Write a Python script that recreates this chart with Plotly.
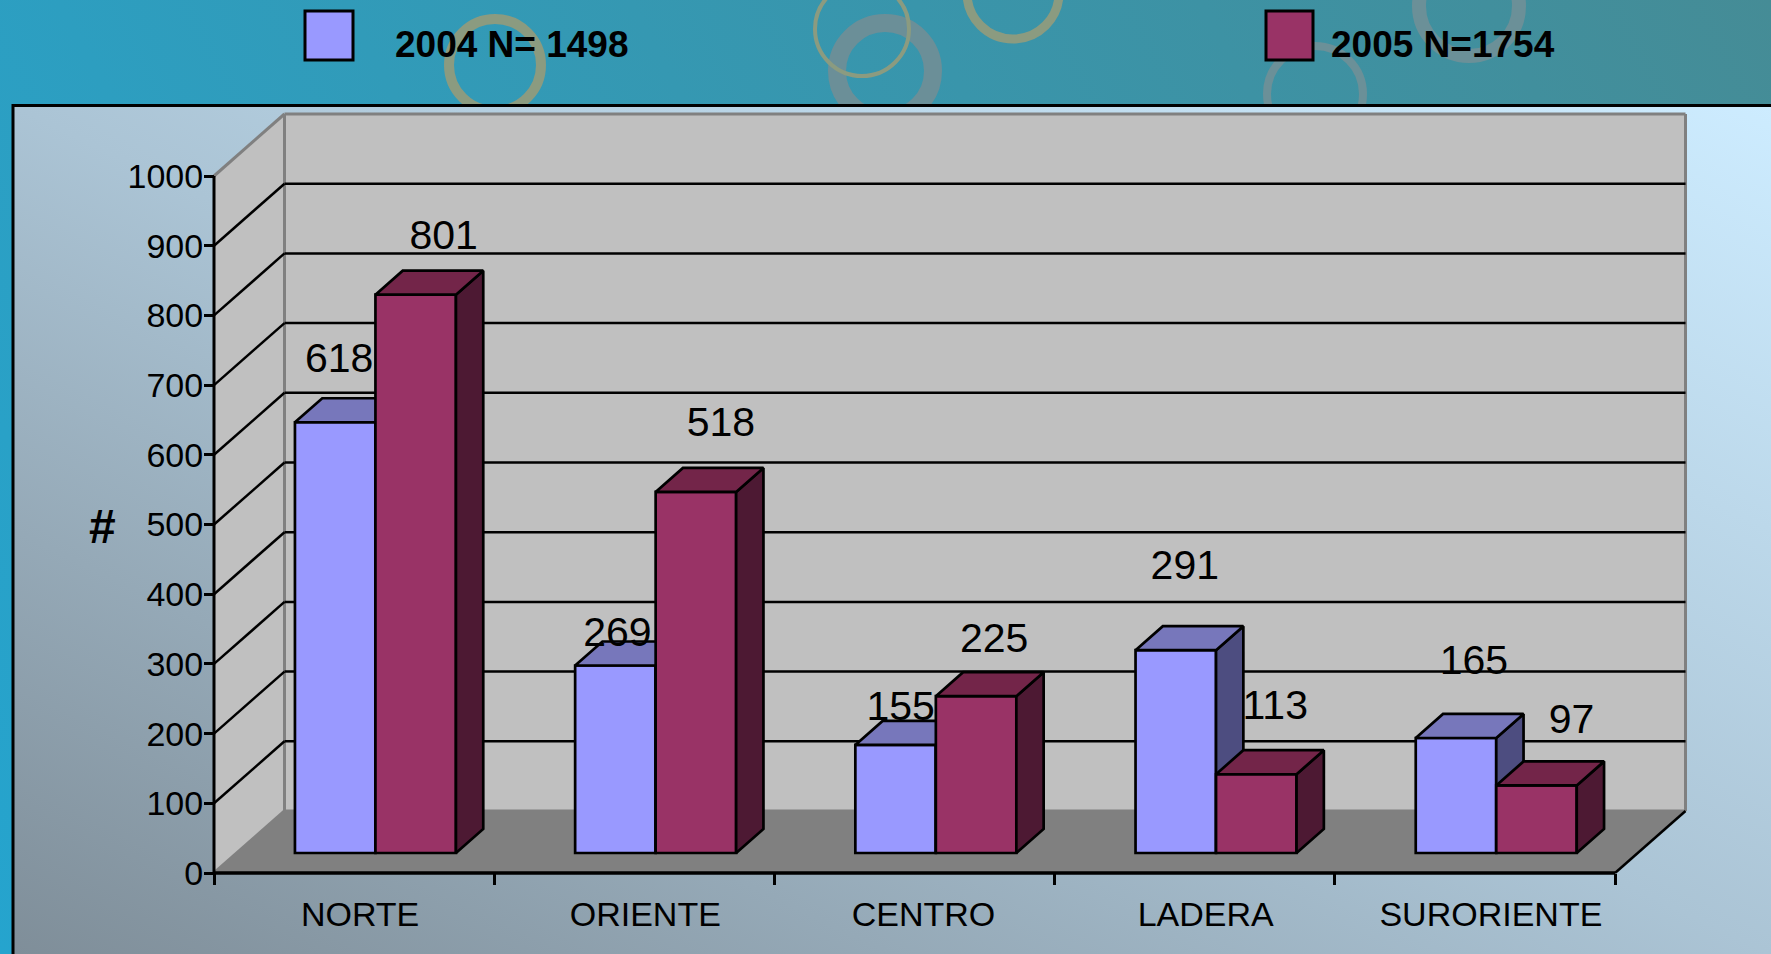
import base64
import plotly.graph_objects as go

# ---- data ----
categories = ["NORTE", "ORIENTE", "CENTRO", "LADERA", "SURORIENTE"]
values_2004 = [618, 269, 155, 291, 165]
values_2005 = [801, 518, 225, 113, 97]
y_ticks = [0, 100, 200, 300, 400, 500, 600, 700, 800, 900, 1000]
legend_2004 = "2004 N= 1498"
legend_2005 = "2005 N=1754"

# hand-placed data label offsets in the original (pixels from the bar's top centre)
label_dx_2004 = [4, 2, 5, 9, 18]
label_dy_2004 = [-61, -30, -35, -81, -74]
label_dx_2005 = [28, 25, 18, 19, 35]
label_dy_2005 = [-56, -66, -54, -65, -63]
# category label centres relative to slot centres (pixels)
cat_label_dx = [6, 11, 9, 11, 16]

# ---- layout constants ----
W, H = 1771, 954
AX_X, AX_Y = 214.0, 873.0      # pixel of x=0, y=0 on the front plane
CAT_PX = 280.2                 # pixels per category
VAL_PX = 0.697                 # pixels per unit of value
DEPTH_X, DEPTH_Y = 70.5, 62.0  # pixel offset of the back wall
D_FRONT, D_BACK = 0.3226, 0.71 # depth of the bars
BAR_W = 80.5 / CAT_PX
GROUP_C = 0.495

C_2004 = ("#9999ff", "#7777bb", "#4d4d80")
C_2005 = ("#993366", "#732549", "#4d1933")
FONT = "Liberation Sans, Arial, sans-serif"


def px(xc, v, d=0.0):
    """category position, value, depth -> data coordinates of the oblique projection"""
    return xc + d * DEPTH_X / CAT_PX, v + d * DEPTH_Y / VAL_PX


def poly(points):
    coords = [px(*p) for p in points]
    return "M " + " L ".join(f"{a:.4f},{b:.4f}" for a, b in coords) + " Z"


def line(p, q, color, width):
    (x0, y0), (x1, y1) = px(*p), px(*q)
    return dict(type="line", xref="x", yref="y", layer="below", x0=x0, y0=y0, x1=x1, y1=y1,
                line=dict(color=color, width=width))


n = len(categories)
shapes = [
    dict(type="path", xref="x", yref="y", layer="below", fillcolor="#c0c0c0", line_width=0,
         path=poly([(0, 0, 0), (0, 1000, 0), (0, 1000, 1), (0, 0, 1)])),
    dict(type="path", xref="x", yref="y", layer="below", fillcolor="#c0c0c0", line_width=0,
         path=poly([(0, 0, 1), (0, 1000, 1), (n, 1000, 1), (n, 0, 1)])),
    dict(type="path", xref="x", yref="y", layer="below", fillcolor="#808080", line_width=0,
         path=poly([(0, 0, 0), (n, 0, 0), (n, 0, 1), (0, 0, 1)])),
]
for a, b in [((0, 1000, 0), (0, 1000, 1)), ((0, 1000, 1), (n, 1000, 1)),
             ((0, 0, 1), (0, 1000, 1)), ((n, 0, 1), (n, 1000, 1)),
             ((0, 0, 1), (n, 0, 1)), ((0, 0, 0), (0, 0, 1))]:
    shapes.append(line(a, b, "#808080", 3))
for v in y_ticks[1:-1]:
    shapes.append(line((0, v, 0), (0, v, 1), "#000000", 2.5))
    shapes.append(line((0, v, 1), (n, v, 1), "#000000", 2.5))
shapes.append(line((n, 0, 0), (n, 0, 1), "#000000", 2.5))
shapes.append(line((0, 0, 0), (n, 0, 0), "#000000", 3.5))
shapes.append(line((0, 0, 0), (0, 1000, 0), "#000000", 3))

# legend swatches
for x0, x1, col in [(305, 353, C_2004[0]), (1266, 1313, C_2005[0])]:
    shapes.append(dict(type="rect", xref="paper", yref="paper", layer="above",
                       x0=x0 / W, x1=x1 / W, y0=1 - 60 / H, y1=1 - 11 / H,
                       fillcolor=col, line=dict(color="#000000", width=3)))

fig = go.Figure()


def add_series(vals, colors, xshift, xaxis, yaxis, name):
    xs = [i + GROUP_C + xshift * BAR_W for i in range(n)]
    base_off = D_FRONT * DEPTH_Y / VAL_PX
    xf = [x + D_FRONT * DEPTH_X / CAT_PX for x in xs]
    # front faces: real bars on the library's axes
    fig.add_trace(go.Bar(x=xf, y=vals, base=[base_off] * n, width=BAR_W, name=name,
                         marker=dict(color=colors[0], line=dict(color="#000000", width=2.7)),
                         xaxis=xaxis, yaxis=yaxis, showlegend=False, hoverinfo="x+y"))
    # top and side faces from the same values
    for face, col in (("side", colors[2]), ("top", colors[1])):
        X, Y = [], []
        for x, v in zip(xs, vals):
            h = BAR_W / 2
            if face == "side":
                pts = [(x + h, 0, D_FRONT), (x + h, 0, D_BACK), (x + h, v, D_BACK), (x + h, v, D_FRONT)]
            else:
                pts = [(x - h, v, D_FRONT), (x + h, v, D_FRONT), (x + h, v, D_BACK), (x - h, v, D_BACK)]
            pts.append(pts[0])
            for p in pts:
                a, b = px(*p)
                X.append(a)
                Y.append(b)
            X.append(None)
            Y.append(None)
        fig.add_trace(go.Scatter(x=X, y=Y, mode="lines", fill="toself", fillcolor=col,
                                 line=dict(color="#000000", width=2.7), xaxis=xaxis, yaxis=yaxis,
                                 showlegend=False, hoverinfo="skip"))


add_series(values_2004, C_2004, -0.5, "x", "y", "2004")
add_series(values_2005, C_2005, 0.5, "x2", "y2", "2005")

# data labels
lx, ly, lt = [], [], []
for vals, shift, dxs, dys in [(values_2004, -0.5, label_dx_2004, label_dy_2004),
                              (values_2005, 0.5, label_dx_2005, label_dy_2005)]:
    for i, v in enumerate(vals):
        a, b = px(i + GROUP_C + shift * BAR_W + dxs[i] / CAT_PX, v - dys[i] / VAL_PX, D_FRONT)
        lx.append(a)
        ly.append(b)
        lt.append(str(v))
fig.add_trace(go.Scatter(x=lx, y=ly, mode="text", text=lt, textposition="middle center",
                         textfont=dict(family=FONT, size=41, color="#000000"),
                         xaxis="x2", yaxis="y2", showlegend=False, hoverinfo="skip"))

# background: gradients and decorative rings
rings = [
    (495, 65, 46, 10, "#8b9b80"), (885, 71, 48, 18, "#6b8f98"), (862, 29, 47, 4, "#8b9b80"),
    (1013, -7, 46, 9, "#8b9b80"), (1315, 94, 48, 8, "#6b9098"), (1469, 6, 50, 14, "#6b9098"),
]
ring_svg = "".join(
    f'<circle cx="{x}" cy="{y}" r="{r}" fill="none" stroke="{c}" stroke-width="{s}"/>'
    for x, y, r, s, c in rings)
svg = f'''<svg xmlns="http://www.w3.org/2000/svg" width="{W}" height="{H}" viewBox="0 0 {W} {H}">
<defs>
<linearGradient id="o" gradientUnits="userSpaceOnUse" x1="0" y1="954" x2="1771" y2="0">
<stop offset="0" stop-color="#25a4ce"/><stop offset="1" stop-color="#458c96"/></linearGradient>
<linearGradient id="p" gradientUnits="userSpaceOnUse" x1="560" y1="1218" x2="1224" y2="-158">
<stop offset="0" stop-color="#7f8e99"/><stop offset="0.5" stop-color="#abc4d5"/><stop offset="1" stop-color="#cdecff"/></linearGradient>
<clipPath id="c"><rect x="0" y="0" width="{W}" height="105"/></clipPath>
</defs>
<rect width="{W}" height="{H}" fill="url(#o)"/>
<g clip-path="url(#c)">{ring_svg}</g>
<rect x="13" y="105.5" width="1760" height="850" fill="url(#p)" stroke="#000000" stroke-width="3"/>
</svg>'''
src = "data:image/svg+xml;base64," + base64.b64encode(svg.encode()).decode()

x_range = [-AX_X / CAT_PX, (W - AX_X) / CAT_PX]
y_range = [(AX_Y - H) / VAL_PX, AX_Y / VAL_PX]

annotations = [
    dict(text=legend_2004, xref="paper", yref="paper", x=393 / W, y=1 - 44 / H, xanchor="left",
         yanchor="middle", showarrow=False, font=dict(family=FONT, size=37, color="#000000", weight="bold")),
    dict(text=legend_2005, xref="paper", yref="paper", x=1329 / W, y=1 - 44 / H, xanchor="left",
         yanchor="middle", showarrow=False, font=dict(family=FONT, size=37, color="#000000", weight="bold")),
    dict(text="#", xref="paper", yref="paper", x=102 / W, y=1 - 526 / H, xanchor="center",
         yanchor="middle", showarrow=False, font=dict(family=FONT, size=48, color="#000000", weight="bold")),
]

fig.update_layout(
    width=W, height=H, margin=dict(l=0, r=0, t=0, b=0), autosize=False,
    paper_bgcolor="#3a97b0", plot_bgcolor="rgba(0,0,0,0)",
    barmode="overlay", showlegend=False, shapes=shapes, annotations=annotations,
    images=[dict(source=src, xref="paper", yref="paper", x=0, y=1, sizex=1, sizey=1,
                 sizing="stretch", xanchor="left", yanchor="top", layer="below")],
    xaxis=dict(domain=[0, 1], range=x_range, anchor="free", position=(H - AX_Y) / H,
               tickmode="array",
               tickvals=[i + 0.5 + cat_label_dx[i] / CAT_PX for i in range(n)], ticktext=categories,
               ticks="", ticklabelstandoff=18, showgrid=False, zeroline=False, showline=False,
               tickfont=dict(family=FONT, size=34, color="#000000"),
               minor=dict(tickmode="array", tickvals=list(range(n + 1)), ticks="outside", ticklen=11,
                          tickwidth=2.5, tickcolor="#000000", showgrid=False)),
    yaxis=dict(domain=[0, 1], range=y_range, anchor="free", position=AX_X / W,
               tickmode="array", tickvals=y_ticks, ticktext=[str(t) for t in y_ticks],
               ticks="outside", ticklen=10, tickwidth=2.5, tickcolor="#000000", ticklabelstandoff=-6,
               showgrid=False, zeroline=False, showline=False,
               tickfont=dict(family=FONT, size=34, color="#000000")),
    xaxis2=dict(domain=[0, 1], range=x_range, overlaying="x", visible=False, anchor="y2"),
    yaxis2=dict(domain=[0, 1], range=y_range, overlaying="y", visible=False, anchor="x2"),
)

fig.write_html("out.html", config=dict(displayModeBar=False),
               post_script="document.body.style.margin='0';document.body.style.overflow='hidden';")
